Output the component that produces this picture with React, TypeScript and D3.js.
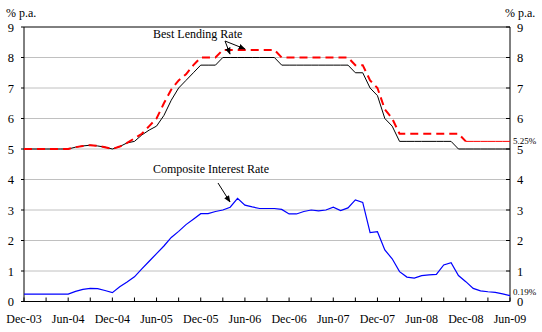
import React from "react";
import * as d3 from "d3";

// Monthly observations, Dec-03 (index 0) to Jun-09 (index 66)
const blrLow: number[] = [
  5.0, 5.0, 5.0, 5.0, 5.0, 5.0, 5.0, 5.06, 5.1, 5.125, 5.1, 5.06, 5.0,
  5.08, 5.2, 5.25, 5.46, 5.62, 5.75, 6.1, 6.6, 7.0, 7.25, 7.5, 7.75, 7.75,
  7.75, 8.0, 8.0, 8.0, 8.0, 8.0, 8.0, 8.0, 8.0, 7.75, 7.75, 7.75, 7.75,
  7.75, 7.75, 7.75, 7.75, 7.75, 7.75, 7.5, 7.5, 7.0, 6.75, 6.0, 5.75, 5.25,
  5.25, 5.25, 5.25, 5.25, 5.25, 5.25, 5.25, 5.0, 5.0, 5.0, 5.0, 5.0, 5.0,
  5.0, 5.0,
];
const blrHigh: number[] = [
  5.0, 5.0, 5.0, 5.0, 5.0, 5.0, 5.0, 5.06, 5.1, 5.125, 5.1, 5.06, 5.0,
  5.08, 5.2, 5.35, 5.5, 5.75, 6.0, 6.5, 6.95, 7.25, 7.45, 7.75, 8.0, 8.0,
  8.0, 8.25, 8.25, 8.25, 8.25, 8.25, 8.25, 8.25, 8.25, 8.0, 8.0, 8.0, 8.0,
  8.0, 8.0, 8.0, 8.0, 8.0, 8.0, 7.75, 7.75, 7.25, 7.0, 6.3, 6.0, 5.5, 5.5,
  5.5, 5.5, 5.5, 5.5, 5.5, 5.5, 5.5, 5.25, 5.25, 5.25, 5.25, 5.25, 5.25,
  5.25,
];
const composite: number[] = [
  0.24, 0.24, 0.24, 0.24, 0.24, 0.24, 0.24, 0.33, 0.4, 0.43, 0.42, 0.36,
  0.29, 0.48, 0.64, 0.81, 1.07, 1.32, 1.57, 1.82, 2.1, 2.3, 2.52, 2.7,
  2.88, 2.88, 2.95, 3.0, 3.09, 3.38, 3.16, 3.1, 3.05, 3.05, 3.05, 3.02,
  2.87, 2.87, 2.95, 3.0, 2.97, 3.0, 3.09, 2.98, 3.07, 3.33, 3.25, 2.26,
  2.29, 1.69, 1.4, 0.98, 0.8, 0.77, 0.85, 0.87, 0.89, 1.2, 1.27, 0.85,
  0.65, 0.43, 0.35, 0.32, 0.3, 0.25, 0.19,
];
const xTickLabels: string[] = [
  "Dec-03", "Jun-04", "Dec-04", "Jun-05", "Dec-05", "Jun-06",
  "Dec-06", "Jun-07", "Dec-07", "Jun-08", "Dec-08", "Jun-09",
];
const yTicks: number[] = [0, 1, 2, 3, 4, 5, 6, 7, 8, 9];
const gridValues: number[] = [1, 2, 3, 4, 5, 6, 7, 8];
const solidFrom = 60; // red line drawn solid from here

const W = 542;
const H = 332;
const L = 24;
const R = 510;
const T = 27;
const B = 301.5;
const FONT = "'Liberation Serif', 'Times New Roman', serif";

export default function App() {
  const n = composite.length;
  const x = d3.scaleLinear().domain([0, n - 1]).range([L, R]);
  const y = d3.scaleLinear().domain([0, 9]).range([B, T]);
  const line = d3
    .line<number>()
    .x((_, i) => x(i))
    .y((d) => y(d));
  const lineOff = (off: number) =>
    d3
      .line<number>()
      .x((_, i) => x(i + off))
      .y((d) => y(d));

  const quarterTicks = d3.range(0, n, 3);

  return (
    <svg
      width={W}
      height={H}
      style={{ position: "absolute", left: 0, top: 0, background: "#fff" }}
      fontFamily={FONT}
    >
      <rect x={0} y={0} width={W} height={H} fill="#fff" />
      {gridValues.map((v) => (
        <line key={v} x1={L} x2={R} y1={y(v)} y2={y(v)} stroke="#c0c0c0" strokeWidth={1} />
      ))}
      {/* frame */}
      <line x1={L} x2={R} y1={y(9)} y2={y(9)} stroke="#000" strokeWidth={1} />
      <line x1={L} x2={R} y1={B} y2={B} stroke="#000" strokeWidth={1} />
      <line x1={L} x2={L} y1={T} y2={B} stroke="#000" strokeWidth={1} />
      <line x1={R} x2={R} y1={T} y2={B} stroke="#000" strokeWidth={1} />
      {yTicks.map((v) => (
        <g key={v}>
          <line x1={L - 3} x2={L} y1={y(v)} y2={y(v)} stroke="#000" />
          <line x1={R - 4} x2={R} y1={y(v)} y2={y(v)} stroke="#000" />
          <text x={14} y={y(v) + 4.5} textAnchor="end" fontSize={12.5}>
            {v}
          </text>
          <text x={517} y={y(v) + 4.5} textAnchor="start" fontSize={12.5}>
            {v}
          </text>
        </g>
      ))}
      {quarterTicks.map((m) => (
        <line key={m} x1={x(m)} x2={x(m)} y1={B - 4} y2={B} stroke="#000" />
      ))}
      {xTickLabels.map((lab, i) => (
        <text key={lab} x={x(i * 6)} y={323} textAnchor="middle" fontSize={12}>
          {lab}
        </text>
      ))}
      <text x={6} y={17} fontSize={12}>% p.a.</text>
      <text x={505} y={17} fontSize={12}>% p.a.</text>

      {/* series */}
      <path d={line(blrLow) || ""} fill="none" stroke="#000" strokeWidth={1} />
      <path
        d={line(blrHigh.slice(0, solidFrom + 1)) || ""}
        fill="none"
        stroke="#ff0000"
        strokeWidth={2}
        strokeDasharray="8,5"
      />
      <path
        d={lineOff(solidFrom)(blrHigh.slice(solidFrom)) || ""}
        fill="none"
        stroke="#ff0000"
        strokeWidth={1}
      />
      <path d={line(composite) || ""} fill="none" stroke="#0000ff" strokeWidth={1.2} />

      {/* annotations */}
      <defs>
        <marker id="arr" viewBox="0 0 10 10" refX={9} refY={5} markerWidth={7} markerHeight={7} orient="auto">
          <path d="M0,1 L10,5 L0,9 z" fill="#000" />
        </marker>
      </defs>
      <text x={153} y={38} fontSize={12}>Best Lending Rate</text>
      <line x1={225} y1={41} x2={230} y2={54} stroke="#000" markerEnd="url(#arr)" />
      <line x1={225} y1={41} x2={245} y2={49} stroke="#000" markerEnd="url(#arr)" />
      <text x={153} y={173} fontSize={12}>Composite Interest Rate</text>
      <line x1={218} y1={183} x2={230} y2={202} stroke="#000" markerEnd="url(#arr)" />
      <text x={513} y={y(blrHigh[n - 1]) + 3} fontSize={9}>5.25%</text>
      <text x={513} y={y(composite[n - 1]) - 1} fontSize={9}>0.19%</text>
    </svg>
  );
}
